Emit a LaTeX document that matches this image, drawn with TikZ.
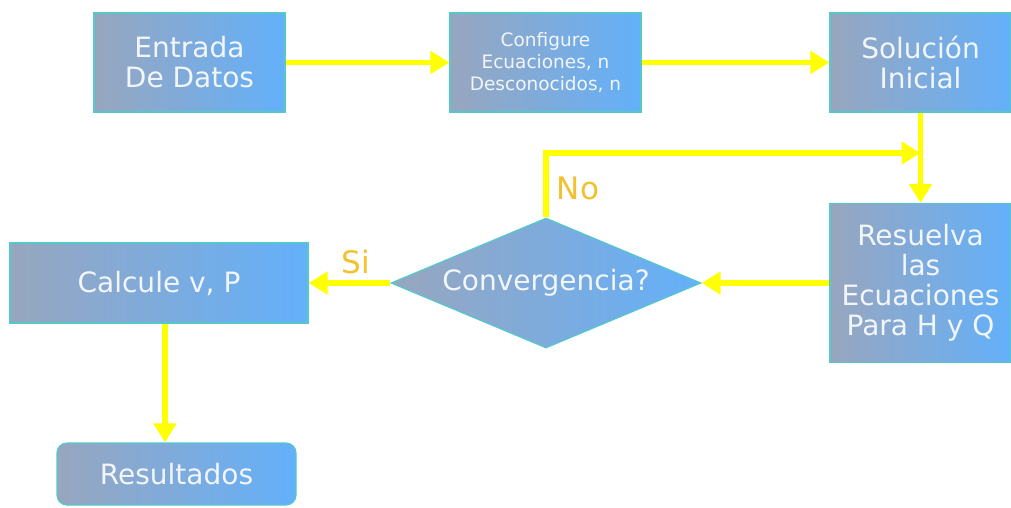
\documentclass[tikz,border=0pt]{standalone}
\usepackage{fontspec}
\setmainfont{DejaVu Sans}
\usetikzlibrary{shapes.geometric,arrows.meta}

\definecolor{cajaizq}{HTML}{98A6BE}
\definecolor{cajader}{HTML}{63B0FA}
\definecolor{borde}{HTML}{55C8CC}
\definecolor{flechas}{HTML}{FFFF00}
\definecolor{etiq}{HTML}{F2C12E}
\definecolor{letra}{HTML}{F2F6FA}

\tikzset{
  caja/.style={rectangle, draw=borde, line width=1.2pt, left color=cajaizq, right color=cajader,
    text=letra, align=center, inner sep=0pt, font=\fontsize{28}{30}\selectfont},
  rombo/.style={diamond, draw=borde, line width=1.2pt, left color=cajaizq, right color=cajader,
    text=letra, inner sep=0pt, aspect=2.38, font=\fontsize{28}{30}\selectfont},
  flecha/.style={draw=flechas, line width=5.5pt, -{Triangle[length=19pt,width=22pt]}},
  etiqueta/.style={text=etiq, inner sep=0pt, font=\fontsize{31}{32}\selectfont}
}

\begin{document}
\begin{tikzpicture}[x=1pt,y=1pt]
\useasboundingbox (0,0) rectangle (1011,-507);
% cajas
\node[caja, minimum width=191pt, minimum height=99pt] (entrada) at (189.5,-62.5) {Entrada\\De Datos};
\node[caja, minimum width=191pt, minimum height=99pt, font=\fontsize{18.5}{22}\selectfont] (configure) at (545.5,-62.5) {Configure\\Ecuaciones, n\\Desconocidos, n};
\node[caja, minimum width=181pt, minimum height=99pt] (solucion) at (920.5,-62.5) {Solución\\Inicial};
\node[caja, minimum width=181pt, minimum height=159pt] (resuelva) at (920.5,-283) {Resuelva\\las\\Ecuaciones\\Para H y Q};
\node[rombo, minimum width=310pt, minimum height=130pt] (conv) at (546,-283) {Convergencia?};
\node[caja, minimum width=298pt, minimum height=80pt] (calcule) at (159,-283) {Calcule v, P};
\node[caja, rounded corners=10pt, minimum width=239pt, minimum height=62pt] (resultados) at (176.5,-474) {Resultados};
\coordinate (junta) at (920.5,-153);
% flechas
\draw[flecha] (entrada) -- (configure);
\draw[flecha] (configure) -- (solucion);
\draw[flecha] (solucion) -- (resuelva);
\draw[flecha] (resuelva) -- (conv);
\draw[flecha] (conv.north) |- (junta);
\draw[flecha] (conv) -- (calcule);
\draw[flecha] ([xshift=6pt]calcule.south) -- ([xshift=6pt]calcule.south |- resultados.north);
% etiquetas
\node[etiqueta] (no) at (578,-188) {No};
\node[etiqueta] (si) at (356,-262) {Si};
\end{tikzpicture}
\end{document}
